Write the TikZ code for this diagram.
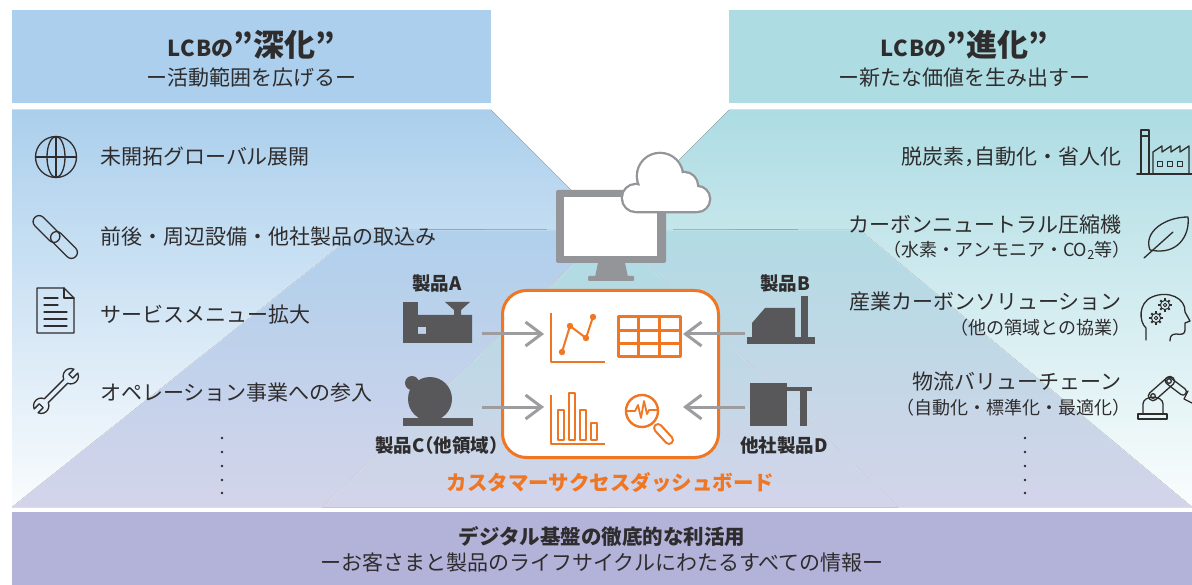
\documentclass[tikz,border=0pt]{standalone}
\usepackage{fontspec}
\setmainfont{Noto Sans CJK JP}
\usetikzlibrary{arrows.meta,positioning,calc}

\definecolor{lcbBlue}{HTML}{ABCFEC}
\definecolor{lcbTeal}{HTML}{ADDCE3}
\definecolor{lcbFloor}{HTML}{D3D4EA}
\definecolor{lcbBand}{HTML}{B3B2D8}
\definecolor{lcbInk}{HTML}{2E2C2D}
\definecolor{lcbOrange}{HTML}{EF7623}
\definecolor{lcbGrey}{HTML}{939598}
\definecolor{lcbDark}{HTML}{58585A}
\definecolor{lcbArrow}{HTML}{9D9D9F}

% half-width parentheses and comma
\newcommand{\lpa}{\makebox[.5em][r]{（}}
\newcommand{\rpa}{\makebox[.5em][l]{）}}
\newcommand{\hcomma}{\makebox[.5em][l]{，}}

\begin{document}
\begin{tikzpicture}[
  x=1pt, y=-1pt,
  font=\fontsize{21}{25}\selectfont,
  item/.style={anchor=west, inner sep=0pt, text=lcbInk},
  itemR/.style={anchor=east, inner sep=0pt, text=lcbInk},
  subR/.style={itemR, font=\fontsize{18}{21}\selectfont},
  headtitle/.style={text=lcbInk, inner sep=0pt, font=\bfseries\fontsize{22}{26}\selectfont},
  headsub/.style={text=lcbInk, inner sep=0pt},
  prod/.style={text=lcbInk, inner sep=0pt, font=\bfseries\fontsize{18.5}{22}\selectfont},
  glyph/.style={draw=lcbInk, line width=1.3pt, line join=round, line cap=round},
  dashline/.style={draw=lcbOrange, line width=2pt, line join=round, line cap=round},
  feed/.style={draw=lcbArrow, line width=3pt, -{Straight Barb[length=16pt, width=24pt]}},
  machine/.style={fill=lcbDark},
  board/.style={draw=lcbOrange, line width=3pt, fill=white, rounded corners=24pt,
                minimum width=216pt, minimum height=167pt},
]
\useasboundingbox (0,0) rectangle (1192,585);

% ---------------- headers ----------------
\fill[lcbBlue] (12,10) rectangle (491,103);
\fill[lcbTeal] (729,10) rectangle (1192,103);
\node[headtitle] (deepT) at (251,45) {L\kern.3pt C\kern1pt Bの\fontsize{31}{34}\selectfont ”深化”};
\node[headsub]   (deepS) at (251,78) {ー活動範囲を広げるー};
\node[headtitle] (evoT)  at (964,45) {L\kern.3pt C\kern1pt Bの\fontsize{31}{34}\selectfont ”進化”};
\node[headsub]   (evoS)  at (964,78) {ー新たな価値を生み出すー};

% ---------------- room background ----------------
% walls
\fill[top color=lcbBlue, middle color=lcbBlue!96!white, bottom color=white!94!lcbBlue]
  (12,110) -- (491,110) -- (610,229) -- (360,230) -- (12,507) -- cycle;
\fill[top color=lcbTeal, middle color=lcbTeal!96!white, bottom color=white!94!lcbTeal]
  (729,110) -- (1192,110) -- (1192,507) -- (860,230) -- (610,229) -- cycle;
% floor
\fill[top color=lcbBlue!88!lcbFloor, middle color=lcbBlue!45!lcbFloor, bottom color=lcbFloor]
  (360,230) -- (610,229) -- (610,507) -- (12,507) -- cycle;
\fill[top color=lcbTeal!88!lcbFloor, middle color=lcbTeal!45!lcbFloor, bottom color=lcbFloor]
  (860,230) -- (610,229) -- (610,507) -- (1192,507) -- cycle;
\fill[top color=lcbTeal, middle color=lcbTeal!55!lcbFloor, bottom color=lcbFloor]
  (610,229) -- (898,507) -- (322,507) -- cycle;
\draw[white, opacity=.5, line width=.7pt] (12,507) -- (360,230) -- (860,230) -- (1192,507);
\draw[white, opacity=.5, line width=.7pt] (322,507) -- (610,229) -- (898,507);

% ---------------- bottom band ----------------
\fill[lcbBand] (12,512) rectangle (1192,585);
\node[text=lcbInk, font=\bfseries\fontsize{20.5}{24}\selectfont] (baseT) at (602,537) {デジタル基盤の徹底的な利活用};
\node[text=lcbInk] (baseS) at (602,563) {ーお客さまと製品のライフサイクルにわたるすべての情報ー};

% ---------------- left items ----------------
\node[item] (l1) at (100,157) {未開拓グローバル展開};
\node[item] (l2) at (100,237) {前後・周辺設備・他社製品の取込み};
\node[item] (l3) at (100,315) {サービスメニュー拡大};
\node[item] (l4) at (100,393) {オペレーション事業への参入};
\foreach \y in {438,452,466,480,493}
  \fill[lcbInk] (222,\y) circle (1.3);

% globe
\draw[glyph] (56,157) circle (20.5);
\draw[glyph] (56,157) ellipse [x radius=9, y radius=20.5];
\draw[glyph] (56,136.5) -- (56,177.5) (35.5,157) -- (76.5,157);
% chain
\begin{scope}[shift={(46.5,229)}, rotate=-45]
  \draw[glyph, rounded corners=6pt] (-16.5,-6) rectangle (16.5,6);
\end{scope}
\begin{scope}[shift={(64,245)}, rotate=-45]
  \draw[glyph, rounded corners=6pt] (-16.5,-6) rectangle (16.5,6);
\end{scope}
% document
\draw[glyph] (37,288) -- (64,288) -- (74,298) -- (74,333) -- (37,333) -- cycle;
\draw[glyph] (64,288) -- (64,298) -- (74,298);
\draw[glyph] (44,298) -- (58,298) (44,305) -- (58,305);
\foreach \y in {312,319,326}
  \draw[glyph] (44,\y) -- (67,\y);
% wrench
\begin{scope}[shift={(56,391)}, rotate=45, scale=1.1]
  \draw[glyph] (12.46,2.5) arc[start angle=159.1, end angle=20.9, radius=7]
    -- (19,2.5) -- (19,-2.5) -- (25.54,-2.5)
    arc[start angle=-20.9, end angle=-159.1, radius=7]
    -- (-12.46,-2.5) arc[start angle=-20.9, end angle=-159.1, radius=7]
    -- (-19,-2.5) -- (-19,2.5) -- (-25.54,2.5)
    arc[start angle=159.1, end angle=20.9, radius=7] -- cycle;
\end{scope}

% ---------------- right items ----------------
\node[itemR] (r1)  at (1122,157) {脱炭素\hcomma 自動化・省人化};
\node[itemR] (r2)  at (1122,225) {カーボンニュートラル圧縮機};
\node[subR]  (r2s) at (1122,250) {\lpa 水素・アンモニア・CO\textsubscript{2}等\rpa};
\node[itemR] (r3)  at (1122,302) {産業カーボンソリューション};
\node[subR]  (r3s) at (1122,328) {\lpa 他の領域との協業\rpa};
\node[itemR] (r4)  at (1122,382) {物流バリューチェーン};
\node[subR]  (r4s) at (1122,408) {\lpa 自動化・標準化・最適化\rpa};
\foreach \y in {438,452,466,480,493}
  \fill[lcbInk] (1025,\y) circle (1.3);

% factory
\draw[glyph] (1141,174) -- (1141,130) -- (1149,130) -- (1149,174);
\draw[glyph] (1141,136) -- (1149,136);
\draw[glyph] (1153,174) -- (1153,152) -- (1162,146) -- (1162,152) -- (1171,146) -- (1171,152)
  -- (1180,146) -- (1180,152) -- (1189,146) -- (1189,174);
\foreach \x in {1157,1167,1177}
  \draw[glyph, line width=1pt] (\x,162) rectangle ++(5,5);
\draw[glyph, line width=2pt] (1137,174.5) -- (1192,174.5);
% leaf
\draw[glyph] (1150,250) .. controls (1143,232) and (1165,217) .. (1188,217)
  .. controls (1190,235) and (1178,256) .. (1150,250);
\draw[glyph] (1144,258) -- (1173,232);
% head with gears
\draw[glyph] (1146,340) -- (1146,328) .. controls (1139,322) and (1138,303) .. (1152,297)
  .. controls (1168,290) and (1186,298) .. (1185,312) -- (1190,321) -- (1185,323)
  -- (1185,330) .. controls (1185,334) and (1182,335) .. (1176,334)
  .. controls (1171,334) and (1170,337) .. (1170,341);
\foreach \c in {(1165,305),(1156,318)} {
  \draw[glyph, line width=1pt] \c circle (4.6) \c circle (1.8);
  \foreach \a in {0,45,...,315}
    \draw[glyph, line width=2pt, line cap=butt] \c ++(\a:4.6) -- ++(\a:2);
}
% robot arm
\draw[glyph] (1138,414) rectangle (1167,419);
\draw[glyph] (1143,414) -- (1143,404) .. controls (1143,395) and (1163,395) .. (1163,404) -- (1163,414);
\begin{scope}[shift={(1153,396)}, rotate=41.4]
  \draw[glyph, rounded corners=4pt] (-4.5,-4.5) rectangle (27,4.5);
\end{scope}
\begin{scope}[shift={(1169,381)}, rotate=-37.4]
  \draw[glyph, rounded corners=3.5pt] (-4,-3.5) rectangle (21,3.5);
\end{scope}
\draw[glyph] (1153,396) circle (2.3) (1169,381) circle (2.3);
\draw[glyph] (1188,391) -- (1184,399) -- (1192,403);

% ---------------- monitor and cloud ----------------
\fill[lcbGrey, rounded corners=2pt] (556,190) rectangle (666,263);
\fill[white] (564,197) rectangle (657,256);
\fill[lcbGrey] (598,263) -- (625,263) -- (628,277) -- (595,277) -- cycle;
\fill[lcbGrey, rounded corners=1pt] (588,276) rectangle (634,281);
\draw[lcbGrey, line width=4.6pt]
  (636,198) circle (13) (660,176) circle (22) (684,186) circle (13) (697,199) circle (12);
\draw[lcbGrey, line width=4.6pt, rounded corners=2pt] (636,190) rectangle (697,211);
\fill[white] (636,198) circle (13) (660,176) circle (22) (684,186) circle (13) (697,199) circle (12);
\fill[white] (636,190) rectangle (697,211);

% ---------------- dashboard ----------------
\node[board] (board) at (610.5,374) {};
\node[text=lcbOrange, font=\bfseries\fontsize{20.5}{24}\selectfont, below=10pt of board] (boardName)
  {カスタマーサクセスダッシュボード};

% line chart
\draw[dashline, line width=1.6pt, line cap=butt] (551,313) -- (551,362) -- (605,362);
\draw[dashline] (562,352) -- (570,326) -- (586,338) -- (593,317);
\foreach \p in {(562,352),(570,326),(586,338),(593,317)}
  \fill[lcbOrange] \p circle (3.2);
% table
\draw[dashline, line width=3pt, line cap=butt] (618,317) rectangle (680,357);
\draw[dashline, line width=3pt, line cap=butt] (638.7,317) -- (638.7,357) (659.3,317) -- (659.3,357)
  (618,330.3) -- (680,330.3) (618,343.7) -- (680,343.7);
% bar chart
\draw[dashline, line width=1.6pt, line cap=butt] (551,395) -- (551,444) -- (605,444);
\draw[dashline, line width=1.8pt] (558,410) rectangle (564,440) (569,393) rectangle (575,440)
  (580,410) rectangle (586,440) (591,423) rectangle (597,440);
% magnifier
\draw[dashline, line width=2.4pt] (642,411) circle (16);
\draw[dashline, line width=1.8pt] (627,411) -- (635,411) -- (638,405) -- (641,418) -- (644,401)
  -- (647,414) -- (649,410) -- (657,410);
\draw[lcbOrange, line width=10pt, line cap=round] (658,428) -- (669,440);
\draw[white, line width=5.6pt, line cap=round] (658,428) -- (669,440);

% ---------------- products ----------------
% A
\fill[machine] (403,302) rectangle (418,343);
\fill[machine] (418,315) -- (472,315) -- (472,343) -- (418,343) -- (418,334) -- (426,334)
  -- (426,327) -- (418,327) -- cycle;
\fill[machine] (445,302) -- (470,302) -- (461,310) -- (461,315) -- (454,315) -- (454,310) -- cycle;
\node[prod] (nameA) at (437,283) {製品A};
% B
\fill[machine] (752,323) -- (765,308) -- (795,308) -- (795,337) -- (752,337) -- cycle;
\fill[machine] (801,296) rectangle (808,337);
\fill[machine] (747,337) rectangle (815,344);
\node[prod] (nameB) at (785,283) {製品B};
% C
\fill[machine] (430,399) circle (22) (412,383) circle (7);
\fill[machine] (403,418) rectangle (473,426);
\node[prod] (nameC) at (437,445) {製品C\lpa 他領域\rpa};
% D
\fill[machine] (750,383) rectangle (787,426);
\fill[machine] (787,387) rectangle (812,391);
\fill[machine] (800,391) rectangle (807,426);
\node[prod] (nameD) at (784,445) {他社製品D};

% ---------------- feeds into the dashboard ----------------
\coordinate (fromA) at (482,334); \coordinate (toA) at (544,334);
\coordinate (fromC) at (482,407); \coordinate (toC) at (544,407);
\coordinate (fromB) at (745,334); \coordinate (toB) at (683,334);
\coordinate (fromD) at (745,407); \coordinate (toD) at (683,407);
\draw[feed] (fromA) -- (toA);
\draw[feed] (fromC) -- (toC);
\draw[feed] (fromB) -- (toB);
\draw[feed] (fromD) -- (toD);
\end{tikzpicture}
\end{document}
